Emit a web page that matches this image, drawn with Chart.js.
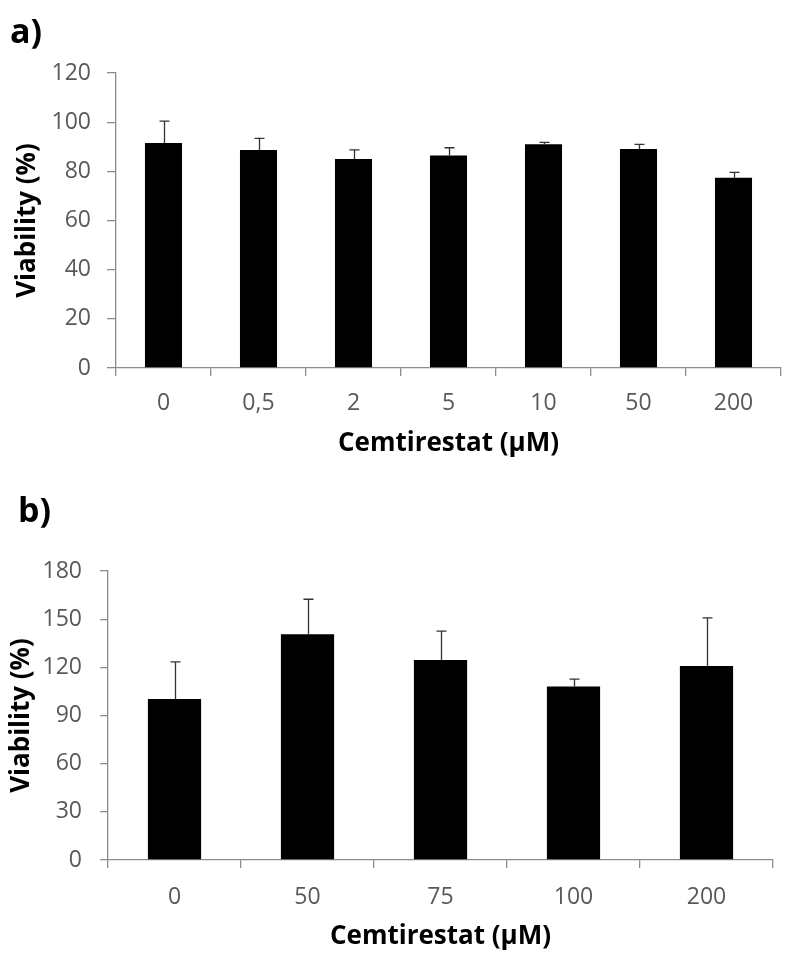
<!DOCTYPE html>
<html>
<head>
<meta charset="utf-8">
<script src="https://cdn.jsdelivr.net/npm/chart.js@4.4.1/dist/chart.umd.min.js"></script>
<style>
  body { margin: 0; background: #fff; width: 790px; height: 963px; position: relative; overflow: hidden; }
  .panel { position: absolute; left: 0; width: 790px; }
  .lbl { position: absolute; font-family: "Open Sans", sans-serif; font-weight: bold; font-size: 34px; line-height: 1; color: #000; }
</style>
</head>
<body>
<div class="panel" style="top:0;height:480px"><canvas id="chartA" width="790" height="480"></canvas></div>
<div class="panel" style="top:480px;height:483px"><canvas id="chartB" width="790" height="483"></canvas></div>
<div class="lbl" style="left:10px;top:13px">a)</div>
<div class="lbl" style="left:18px;top:492px">b)</div>
<script>
// данные панели a)
const catsA = ['0', '0,5', '2', '5', '10', '50', '200'];
const viabA = [91.5, 88.7, 85.0, 86.4, 91.0, 89.1, 77.4];
const errA = [8.9, 4.7, 3.7, 3.2, 0.8, 1.9, 2.2];
const ticksA = [0, 20, 40, 60, 80, 100, 120];

// данные панели b)
const catsB = ['0', '50', '75', '100', '200'];
const viabB = [100.2, 140.6, 124.5, 108.1, 120.9];
const errB = [23.2, 21.8, 18.0, 4.5, 29.9];
const ticksB = [0, 30, 60, 90, 120, 150, 180];

const axisColor = '#8c8c8c';
const tickColor = '#595959';
const xTitle = 'Cemtirestat (\u00b5M)';
const yTitle = 'Viability (%)';

// рисуем верхние "усы" погрешности через шкалу графика
const errorBars = {
    id: 'errorBars',
    afterDatasetsDraw(chart) {
        const ctx = chart.ctx, yScale = chart.scales.y;
        chart.data.datasets.forEach((ds, di) => {
            const meta = chart.getDatasetMeta(di);
            meta.data.forEach((bar, i) => {
                const top = yScale.getPixelForValue(ds.data[i] + ds.errors[i]);
                const x = Math.round(bar.x) + 0.5;
                ctx.save();
                ctx.strokeStyle = '#333';
                ctx.lineWidth = 1.3;
                ctx.beginPath();
                ctx.moveTo(x, bar.y);
                ctx.lineTo(x, top);
                ctx.moveTo(x - 5, top);
                ctx.lineTo(x + 5, top);
                ctx.stroke();
                ctx.restore();
            });
        });
    }
};

function makeChart(id, cats, vals, errs, yTicks, o) {
    const ctx = document.getElementById(id).getContext('2d');
    return new Chart(ctx, {
        type: 'bar',
        data: {
            labels: cats,
            datasets: [{
                data: vals,
                errors: errs,
                backgroundColor: '#000',
                borderWidth: 0,
                barPercentage: o.barPct,
                categoryPercentage: 1
            }]
        },
        options: {
            responsive: false,
            animation: false,
            layout: { padding: { top: o.top, right: o.right, left: 0, bottom: 0 } },
            plugins: { legend: { display: false }, tooltip: { enabled: false } },
            scales: {
                x: {
                    afterFit: s => { s.height = o.xHeight; },
                    border: { color: axisColor, width: 1.3 },
                    grid: { drawOnChartArea: false, color: axisColor, tickLength: 8, lineWidth: 1.3, offset: true },
                    ticks: { color: tickColor, font: { family: 'Open Sans', size: 23 }, padding: o.xPad },
                    title: { display: true, text: xTitle, color: '#000', font: { family: 'Open Sans', size: 26, weight: 'bold' }, padding: { bottom: o.xTitlePad } }
                },
                y: {
                    min: yTicks[0],
                    max: yTicks[yTicks.length - 1],
                    afterFit: s => { s.width = o.yWidth; },
                    afterBuildTicks: s => { s.ticks = yTicks.map(v => ({ value: v })); },
                    border: { color: axisColor, width: 1.3 },
                    grid: { drawOnChartArea: false, color: axisColor, tickLength: o.yTick, lineWidth: 1.3 },
                    ticks: { color: tickColor, font: { family: 'Open Sans', size: 23 }, padding: o.yPad },
                    title: { display: true, text: yTitle, color: '#000', font: { family: 'Open Sans', size: 26, weight: 'bold' }, padding: { top: o.yTitlePad } }
                }
            }
        },
        plugins: [errorBars]
    });
}

makeChart('chartA', catsA, viabA, errA, ticksA,
    { barPct: 0.39, top: 73, right: 9, xHeight: 112, yWidth: 116, xPad: 14, yPad: 16, yTick: 9, xTitlePad: 21, yTitlePad: 12 });
makeChart('chartB', catsB, viabB, errB, ticksB,
    { barPct: 0.40, top: 91, right: 17, xHeight: 103, yWidth: 108, xPad: 16, yPad: 18, yTick: 8, xTitlePad: 11, yTitlePad: 6 });
</script>
</body>
</html>
